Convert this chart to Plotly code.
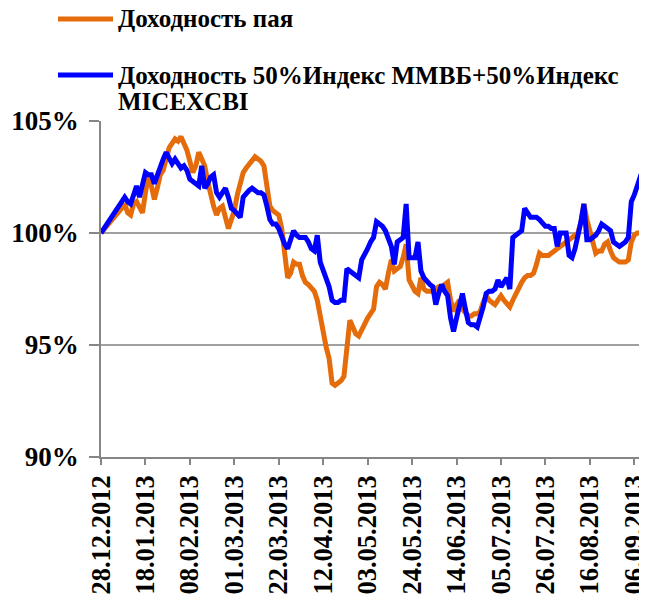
import pandas as pd
import plotly.graph_objects as go

# Trading days starting 28.12.2012 (categories of the x axis)
dates = [d.strftime("%d.%m.%Y") for d in pd.bdate_range("2012-12-28", periods=185)]
tick_labels = dates[::15]

fund = [
    100.0, 100.15, 100.3, 100.45, 100.6, 100.75, 100.9, 101.1, 101.3, 100.9,
    100.8, 101.3, 101.4, 101.1, 100.9, 101.8, 102.6, 102.1, 101.5, 102.0,
    102.6, 102.8, 103.3, 103.8, 104.0, 104.2, 104.1, 104.3, 104.0, 103.7,
    103.2, 102.7, 103.0, 103.6, 103.3, 103.0, 102.3, 101.7, 101.2, 100.8,
    101.1, 101.2, 100.6, 100.2, 100.6, 101.0, 101.7, 102.3, 102.7, 102.9,
    103.1, 103.3, 103.4, 103.3, 103.2, 103.0, 102.2, 101.2, 101.0, 100.9,
    100.8, 100.2, 99.0, 98.0, 98.2, 98.7, 98.6, 98.6, 98.1, 97.8,
    97.7, 97.5, 97.4, 97.0, 96.2, 95.4, 94.9, 94.4, 93.3, 93.2,
    93.3, 93.4, 93.6, 94.8, 96.1, 95.8, 95.5, 95.4, 95.7, 96.0,
    96.2, 96.4, 96.6, 97.6, 97.8, 97.7, 97.5, 98.2, 98.8, 98.3,
    98.4, 98.5, 98.9, 99.5, 97.9, 97.6, 97.4, 97.3, 98.0, 97.5,
    97.4, 97.4, 97.4, 97.5, 97.6, 97.6, 97.7, 97.8, 97.0, 96.5,
    96.8, 97.0, 96.6, 96.4, 96.3, 96.3, 96.4, 96.4, 96.5, 96.9,
    97.2, 97.0, 96.9, 96.8, 97.0, 97.2, 97.0, 96.8, 96.7, 97.0,
    97.3, 97.5, 97.8, 98.0, 98.1, 98.1, 98.2, 98.6, 99.1, 99.0,
    99.0, 99.0, 99.1, 99.2, 99.3, 99.4, 99.5, 99.6, 99.7, 99.8,
    99.9, 100.0, 100.5, 101.3, 100.6, 100.1, 99.8, 99.1, 99.2, 99.2,
    99.5, 99.6, 99.2, 98.9, 98.8, 98.7, 98.7, 98.7, 98.8, 99.6,
    99.9, 100.0, 100.0, 100.2, 100.3,
]

index = [
    100.0, 100.2, 100.4, 100.6, 100.8, 101.0, 101.2, 101.4, 101.6, 101.4,
    101.3, 101.7, 102.1, 101.6, 102.2, 102.7, 102.6, 102.6, 102.2, 102.6,
    102.9, 103.3, 103.6, 103.3, 103.1, 103.3, 103.1, 102.9, 103.0, 102.8,
    102.4, 102.3, 102.2, 102.1, 103.0, 102.0, 102.2, 102.5, 102.6, 101.8,
    101.6, 101.8, 102.0, 101.6, 101.1, 101.0, 100.8, 100.7, 101.6, 101.8,
    101.9, 102.0, 101.9, 101.8, 101.8, 101.7, 101.2, 100.6, 100.4, 100.4,
    100.2, 99.8, 99.5, 99.3, 99.7, 100.1, 99.9, 99.8, 99.8, 99.8,
    99.6, 99.3, 99.2, 99.9, 98.7, 98.3, 98.0, 97.6, 97.0, 96.9,
    96.9, 97.0, 97.0, 98.4, 98.3, 98.2, 98.1, 98.0, 98.8, 99.0,
    99.3, 99.6, 99.8, 100.5, 100.4, 100.3, 100.1, 99.8, 99.4, 98.6,
    99.6, 99.7, 99.8, 101.3, 98.9, 98.9, 98.9, 99.6, 98.3, 98.0,
    97.8, 97.7, 97.6, 96.8, 97.3, 97.7, 97.4, 97.2, 96.2, 95.6,
    96.2, 96.7, 97.3, 96.6, 96.0, 95.9, 95.9, 95.8, 96.2, 96.7,
    97.3, 97.4, 97.4, 97.5, 97.9, 97.6, 97.8, 98.0, 97.5, 99.8,
    99.9, 100.0, 100.1, 101.1, 100.9, 100.7, 100.7, 100.7, 100.6, 100.4,
    100.3, 100.3, 100.2, 100.2, 99.4, 100.0, 100.0, 100.0, 99.0, 98.9,
    99.3, 99.8, 100.5, 101.3, 99.7, 99.7, 99.8, 99.9, 100.1, 100.4,
    100.3, 100.2, 100.1, 99.6, 99.5, 99.4, 99.5, 99.6, 99.8, 101.4,
    101.7, 102.2, 102.5, 102.4, 102.1,
]

series_names = ["Доходность пая", "Доходность 50%Индекс ММВБ+50%Индекс"]
series_name_cont = "MICEXCBI"
series_colors = ["#E46C0A", "#0000FF"]

y_ticks = [90, 95, 100, 105]
y_tick_labels = ["90%", "95%", "100%", "105%"]

FONT = "Liberation Serif, Times New Roman, serif"
AXIS = "#868686"
GRID = "#A0A0A0"

# figure geometry (page has an 8px body margin)
W, H = 639, 593
ML, MT, MR, MB = 93, 113, 0, 144
PW, PH = W - ML - MR, H - MT - MB


def px(fx):
    return (fx - ML) / PW


def py(fy):
    return (H - MB - fy) / PH


fig = go.Figure()
for name, vals, col in zip(series_names, [fund, index], series_colors):
    fig.add_trace(go.Scatter(
        x=dates, y=vals, mode="lines", name=name,
        line=dict(color=col, width=5), showlegend=False,
    ))

# manual legend (line samples + labels)
LEG_FONT = dict(family=FONT, size=25, color="black", weight="bold")
legend_rows = [11, 67]
shapes, annotations = [], []
for fy, name, col in zip(legend_rows, series_names, series_colors):
    shapes.append(dict(type="line", xref="paper", yref="paper",
                       x0=px(50), x1=px(105), y0=py(fy), y1=py(fy),
                       line=dict(color=col, width=5)))
    annotations.append(dict(xref="paper", yref="paper", x=px(108), y=py(fy),
                            xanchor="left", yanchor="middle", showarrow=False,
                            text=name, font=LEG_FONT))
annotations.append(dict(xref="paper", yref="paper", x=px(108), y=py(93),
                        xanchor="left", yanchor="middle", showarrow=False,
                        text=series_name_cont, font=LEG_FONT))

fig.update_layout(
    width=W, height=H,
    margin=dict(l=ML, r=MR, t=MT, b=MB, autoexpand=False),
    paper_bgcolor="white", plot_bgcolor="white",
    font=dict(family=FONT, color="black"),
    showlegend=False,
    shapes=shapes, annotations=annotations,
)

fig.update_xaxes(
    type="category",
    range=[0, 184.3],
    tickmode="array", tickvals=tick_labels, ticktext=tick_labels,
    tickangle=-90,
    tickfont=dict(family=FONT, size=26.5, color="black", weight="bold"),
    ticks="outside", ticklen=6, tickcolor=AXIS, tickwidth=1.5,
    showline=True, linecolor=AXIS, linewidth=1.5,
    showgrid=False, zeroline=False,
)
fig.update_yaxes(
    range=[90, 105],
    tickmode="array", tickvals=y_ticks, ticktext=y_tick_labels,
    tickfont=dict(family=FONT, size=27, color="black", weight="bold"),
    ticks="outside", ticklen=10, tickcolor=AXIS, tickwidth=1.5,
    ticklabelstandoff=5,
    showline=True, linecolor=AXIS, linewidth=1.5,
    showgrid=True, gridcolor=GRID, gridwidth=1.5,
    zeroline=False,
)

fig.write_html("out.html")
